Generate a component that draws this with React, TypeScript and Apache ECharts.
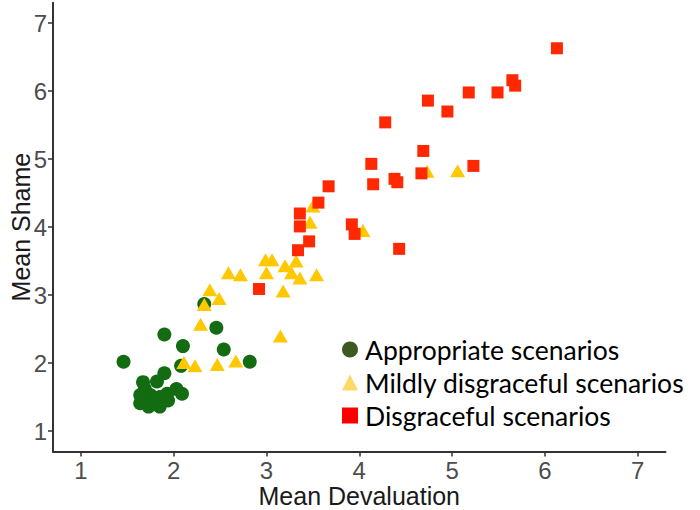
import React, { useEffect, useRef } from "react";
import * as echarts from "echarts";

const seriesNames = ["Appropriate scenarios", "Mildly disgraceful scenarios", "Disgraceful scenarios"];

const appropriateX = [1.46, 1.90, 2.10, 2.08, 1.90, 1.67, 1.82, 2.03, 2.09, 1.64, 1.75, 1.85, 1.64, 1.73, 1.85, 1.94, 1.78, 1.93, 1.69, 2.33, 2.46, 2.54, 2.82];
const appropriateY = [2.02, 2.42, 2.25, 1.96, 1.85, 1.72, 1.73, 1.62, 1.55, 1.53, 1.53, 1.50, 1.41, 1.36, 1.36, 1.45, 1.43, 1.55, 1.62, 2.87, 2.52, 2.20, 2.02];

const mildX = [2.99, 3.06, 3.20, 3.32, 2.59, 2.72, 3.00, 3.27, 3.36, 3.54, 3.18, 2.39, 2.49, 2.33, 2.29, 3.15, 2.11, 2.23, 2.47, 2.67, 4.04, 3.50, 3.47, 4.73, 5.06];
const mildY = [3.52, 3.52, 3.43, 3.50, 3.33, 3.30, 3.33, 3.33, 3.25, 3.30, 3.06, 3.08, 2.95, 2.86, 2.57, 2.40, 2.01, 1.96, 1.98, 2.03, 3.95, 4.31, 4.07, 4.82, 4.83];

const disgracefulX = [6.13, 5.65, 5.68, 5.18, 5.49, 4.74, 4.95, 4.28, 4.69, 4.13, 5.23, 4.15, 4.38, 4.41, 4.67, 3.67, 3.56, 3.36, 3.36, 3.92, 3.95, 3.46, 3.34, 4.43, 2.92];
const disgracefulY = [6.63, 6.16, 6.08, 5.98, 5.98, 5.86, 5.70, 5.54, 5.12, 4.93, 4.90, 4.63, 4.71, 4.66, 4.79, 4.60, 4.36, 4.20, 4.01, 4.04, 3.90, 3.79, 3.66, 3.68, 3.09];

const tickValues = [1, 2, 3, 4, 5, 6, 7];

const pairs = (xs: number[], ys: number[]) => xs.map((x, i) => [x, ys[i]]);

export default function App() {
  const ref = useRef<HTMLDivElement>(null);
  useEffect(() => {
    if (!ref.current) return;
    const chart = echarts.init(ref.current, null, { renderer: "svg" });
    const axisFont = "'Liberation Sans', Arial, sans-serif";
    const axisCommon = {
      type: "value" as const,
      min: 0.7,
      max: 7.3,
      splitLine: { show: false },
      axisLine: { show: true, lineStyle: { color: "#333333", width: 2 } },
      axisTick: { show: true, length: 5, customValues: tickValues, lineStyle: { color: "#333333", width: 1.5 } },
      nameLocation: "middle" as const,
      nameMoveOverlap: false,
      nameTextStyle: { color: "#1a1a1a", fontSize: 25, lineHeight: 24, fontFamily: axisFont },
    };
    chart.setOption({
      animation: false,
      backgroundColor: "#ffffff",
      grid: { left: 53, right: 34.5, top: 2.7, bottom: 58.5, containLabel: false, outerBoundsMode: "none" },
      xAxis: {
        ...axisCommon,
        name: "Mean Devaluation",
        nameGap: 32,
        axisLabel: { customValues: tickValues, color: "#4d4d4d", fontSize: 24, lineHeight: 24, fontFamily: axisFont, margin: 7 },
      },
      yAxis: {
        ...axisCommon,
        name: "Mean Shame",
        nameGap: 20,
        nameRotate: 90,
        axisLabel: { customValues: tickValues, color: "#4d4d4d", fontSize: 24, lineHeight: 24, fontFamily: axisFont, margin: 6 },
      },
      legend: {
        orient: "vertical",
        left: 337,
        top: 331,
        itemWidth: 16,
        itemHeight: 16,
        itemGap: 6,
        textStyle: {
          fontSize: 26.5,
          fontFamily: "Lato, 'Open Sans', sans-serif",
          color: "#000000",
          lineHeight: 26,
          padding: [0, 0, 0, 2],
        },
        data: [
          { name: seriesNames[0], icon: "circle", itemStyle: { color: "#3b5a22" } },
          { name: seriesNames[1], icon: "triangle", itemStyle: { color: "#ffd966" } },
          { name: seriesNames[2], icon: "rect", itemStyle: { color: "#ff0000" } },
        ],
      },
      series: [
        {
          name: seriesNames[0],
          type: "scatter",
          symbol: "circle",
          symbolSize: 14,
          itemStyle: { color: "#136b12", opacity: 1 },
          data: pairs(appropriateX, appropriateY),
        },
        {
          name: seriesNames[1],
          type: "scatter",
          symbol: "triangle",
          symbolSize: [15, 13],
          itemStyle: { color: "#ffc800", opacity: 1 },
          data: pairs(mildX, mildY),
        },
        {
          name: seriesNames[2],
          type: "scatter",
          symbol: "rect",
          symbolSize: 12,
          itemStyle: { color: "#ff2800", opacity: 1 },
          data: pairs(disgracefulX, disgracefulY),
        },
      ],
    });
    return () => chart.dispose();
  }, []);
  return (
    <div
      ref={ref}
      style={{ position: "fixed", left: 0, top: 0, width: 700, height: 510, background: "#fff" }}
    />
  );
}
